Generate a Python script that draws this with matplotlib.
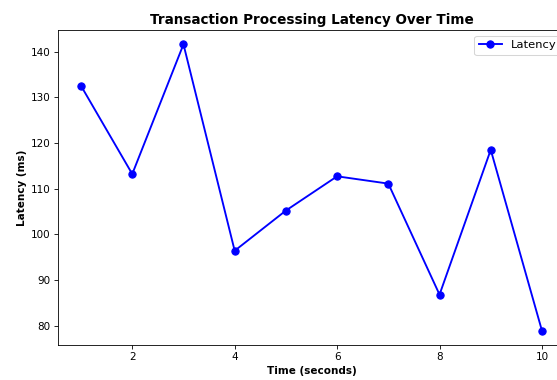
import matplotlib
matplotlib.use("Agg")
import matplotlib.pyplot as plt

time_s = [1, 2, 3, 4, 5, 6, 7, 8, 9, 10]
latency_ms = [132.5, 113.2, 141.6, 96.4, 105.2, 112.7, 111.1, 86.8, 118.5, 78.9]

DPI = 75
fig = plt.figure(figsize=(557 / DPI, 380 / DPI), dpi=DPI)
ax = fig.add_axes([58/557, 1 - 345/380, (565 - 58)/557, (345 - 30)/380])
ax.plot(time_s, latency_ms, color="blue", marker="o", linewidth=1.8, markersize=7,
        label="Latency")
ax.set_title("Transaction Processing Latency Over Time", fontweight="bold", fontsize=13)
ax.set_xlabel("Time (seconds)", fontweight="bold", fontsize=10)
ax.set_ylabel("Latency (ms)", fontweight="bold", fontsize=10)
ax.tick_params(labelsize=10)
ax.legend(loc="upper right", fontsize=11, bbox_to_anchor=(1.004, 1.0))
fig.savefig("out.png", dpi=DPI)
